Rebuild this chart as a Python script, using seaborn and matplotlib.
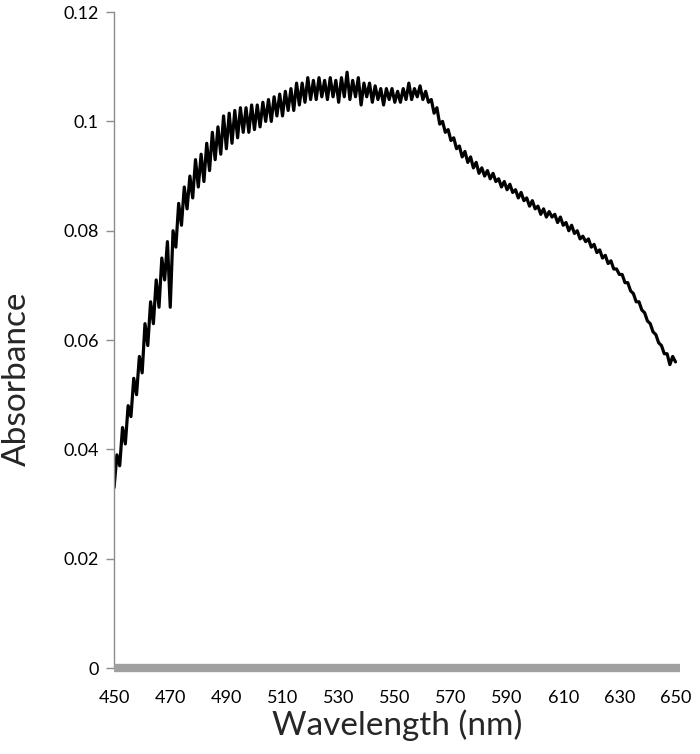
import numpy as np
import pandas as pd
import matplotlib
matplotlib.use("Agg")
import matplotlib.pyplot as plt
import seaborn as sns

wavelength_start = 450
absorbance = [
    0.033, 0.039, 0.037, 0.044, 0.041, 0.048, 0.046, 0.053, 0.050, 0.057,  # 450-459
    0.054, 0.063, 0.059, 0.067, 0.063, 0.071, 0.066, 0.075, 0.071, 0.078,  # 460-469
    0.066, 0.080, 0.077, 0.085, 0.081, 0.088, 0.084, 0.090, 0.086, 0.093,  # 470-479
    0.088, 0.094, 0.089, 0.096, 0.091, 0.098, 0.093, 0.099, 0.094, 0.101,  # 480-489
    0.095, 0.1015, 0.096, 0.102, 0.097, 0.1025, 0.098, 0.1025, 0.098, 0.103,  # 490-499
    0.0985, 0.103, 0.099, 0.1035, 0.100, 0.104, 0.100, 0.1045, 0.101, 0.105,  # 500-509
    0.101, 0.1055, 0.102, 0.106, 0.102, 0.107, 0.103, 0.107, 0.1035, 0.108,  # 510-519
    0.104, 0.1075, 0.104, 0.108, 0.1045, 0.1075, 0.104, 0.108, 0.1045, 0.1075,  # 520-529
    0.1035, 0.108, 0.1045, 0.109, 0.104, 0.1075, 0.1045, 0.108, 0.103, 0.107,  # 530-539
    0.1045, 0.107, 0.1035, 0.1065, 0.104, 0.106, 0.103, 0.106, 0.104, 0.106,  # 540-549
    0.1035, 0.1055, 0.1035, 0.106, 0.104, 0.107, 0.104, 0.106, 0.1045, 0.1065,  # 550-559
    0.104, 0.1055, 0.1035, 0.104, 0.1015, 0.1025, 0.0995, 0.1000, 0.0980, 0.0985,  # 560-569
    0.0965, 0.0970, 0.0950, 0.0955, 0.0935, 0.0945, 0.0925, 0.0935, 0.0915, 0.0925,  # 570-579
    0.0905, 0.0915, 0.0900, 0.0910, 0.0895, 0.0905, 0.0890, 0.0895, 0.0880, 0.0890,  # 580-589
    0.0875, 0.0885, 0.0870, 0.0875, 0.0860, 0.0870, 0.0855, 0.0860, 0.0845, 0.0855,  # 590-599
    0.0840, 0.0845, 0.0830, 0.0840, 0.0825, 0.0835, 0.0825, 0.0830, 0.0815, 0.0825,  # 600-609
    0.0810, 0.0815, 0.0800, 0.0810, 0.0795, 0.0800, 0.0785, 0.0790, 0.0780, 0.0785,  # 610-619
    0.0770, 0.0775, 0.0760, 0.0765, 0.0750, 0.0755, 0.0740, 0.0745, 0.0730, 0.0730,  # 620-629
    0.0720, 0.0720, 0.0705, 0.0705, 0.0690, 0.0685, 0.0670, 0.0670, 0.0655, 0.0650,  # 630-639
    0.0635, 0.0630, 0.0615, 0.0610, 0.0595, 0.0590, 0.0575, 0.0575, 0.0555, 0.0570,  # 640-649
    0.0560,  # 650
]
wavelength = list(range(wavelength_start, wavelength_start + len(absorbance)))

x_ticks = [450, 470, 490, 510, 530, 550, 570, 590, 610, 630, 650]
y_ticks = [0, 0.02, 0.04, 0.06, 0.08, 0.1, 0.12]
y_tick_labels = ["0", "0.02", "0.04", "0.06", "0.08", "0.1", "0.12"]

df = pd.DataFrame({"Wavelength": wavelength, "Absorbance": absorbance})

sns.set_style("white")
plt.rcParams["font.family"] = ["Lato", "DejaVu Sans"]

fig = plt.figure(figsize=(7.0, 7.54), dpi=100)
ax = fig.add_axes([0.163, 0.114, 0.808, 0.870])

sns.lineplot(data=df, x="Wavelength", y="Absorbance", ax=ax,
             color="black", linewidth=2.3, estimator=None)

ax.set_xlim(450, 651.5)
ax.set_ylim(0, 0.12)
ax.set_xticks(x_ticks)
ax.set_xticklabels([str(t) for t in x_ticks], fontsize=13)
ax.set_yticks(y_ticks)
ax.set_yticklabels(y_tick_labels, fontsize=13)

for s in ["top", "right"]:
    ax.spines[s].set_visible(False)
ax.spines["left"].set_color("#8c8c8c")
ax.spines["left"].set_linewidth(1.0)
ax.spines["bottom"].set_color("#a0a0a0")
ax.spines["bottom"].set_linewidth(6)
ax.spines["bottom"].set_capstyle("butt")

ax.tick_params(axis="y", direction="out", length=6, width=1, color="#8c8c8c",
               pad=5, labelcolor="black", left=True)
ax.tick_params(axis="x", length=0, pad=16, labelcolor="black", bottom=True)

ax.set_xlabel("Wavelength (nm)", fontsize=24, va="baseline")
ax.set_ylabel("Absorbance", fontsize=24, va="center")
ax.xaxis.set_label_coords(0.5, -0.102)
ax.yaxis.set_label_coords(-0.172, 0.4405)

fig.savefig("out.png", dpi=100)
